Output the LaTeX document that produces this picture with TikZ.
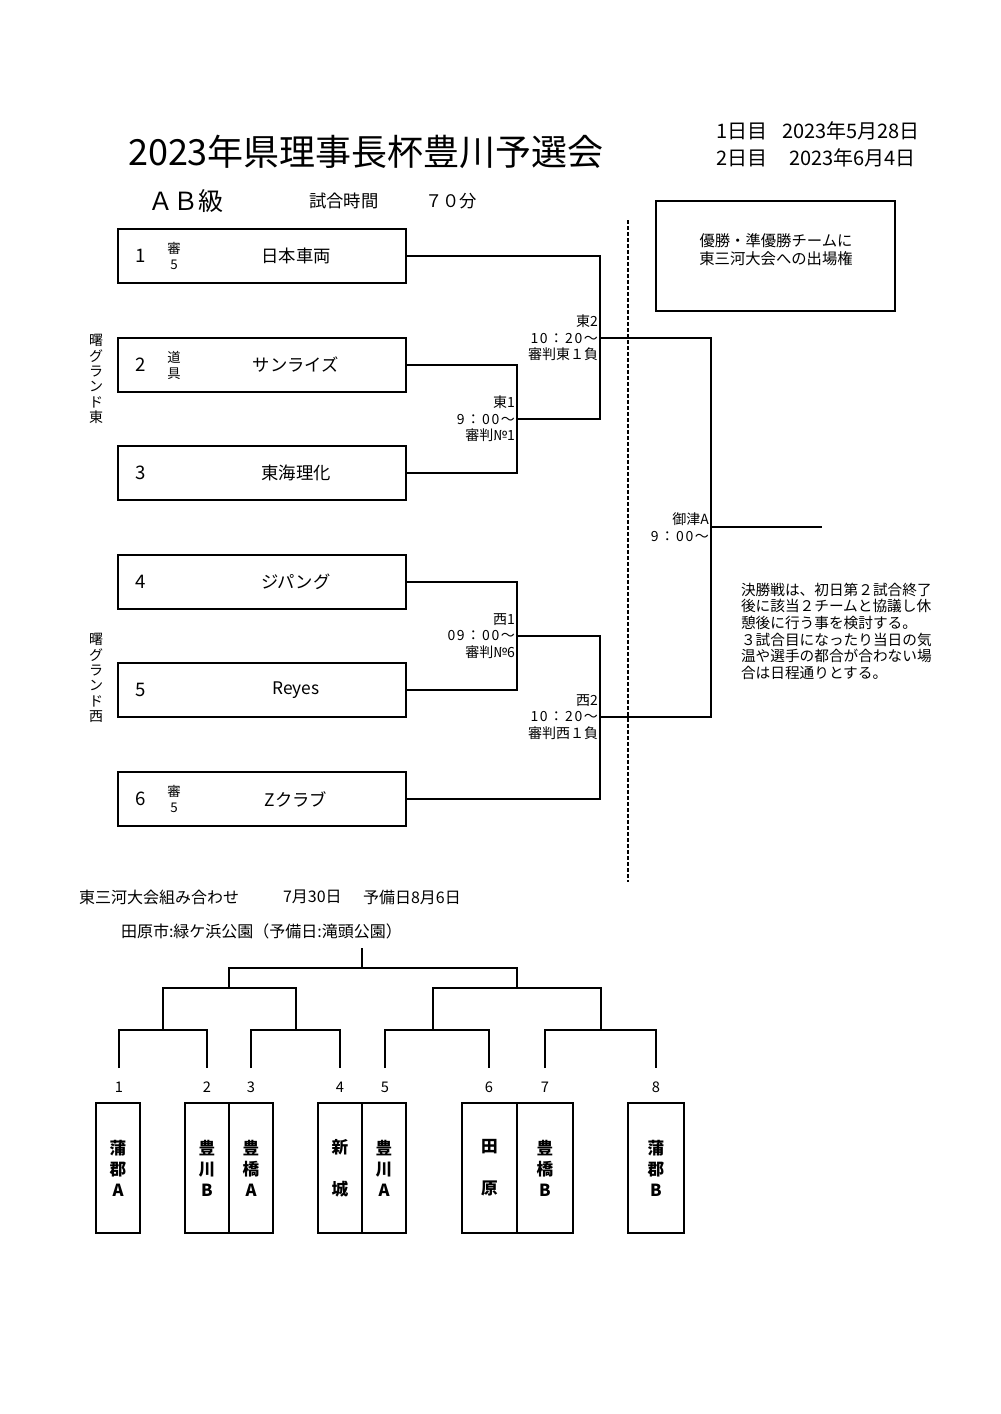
\documentclass[tikz,border=0pt]{standalone}
\usepackage{fontspec}
\setmainfont{Noto Sans CJK JP}
\newcommand\wide{\addfontfeature{LetterSpace=12}}
\begin{document}
\begin{tikzpicture}[x=0.75pt,y=-0.75pt,
  every node/.style={inner sep=0pt, outer sep=0pt},
  team/.style={draw, line width=1.1pt, minimum width=216pt, minimum height=40.5pt},
  tname/.style={font=\fontsize{13pt}{15pt}\selectfont},
  tnum/.style={font=\fontsize{14pt}{15pt}\selectfont},
  tnote/.style={font=\fontsize{10pt}{12pt}\selectfont, align=center},
  lbl/.style={font=\fontsize{10.5pt}{12.4pt}\selectfont, align=right, anchor=east},
  wire/.style={line width=1.1pt},
  vtext/.style={font=\fontsize{10.5pt}{11.5pt}\selectfont, align=center},
  cell/.style={draw, line width=1.1pt, minimum height=97.5pt, font=\bfseries\fontsize{12.5pt}{15.75pt}\selectfont, align=center},
  bnum/.style={font=\fontsize{11pt}{12pt}\selectfont},
  head/.style={anchor=west, font=\fontsize{12pt}{14pt}\selectfont},
  date/.style={anchor=west, font=\fontsize{15pt}{16pt}\selectfont}
]
\useasboundingbox (0,0) rectangle (1000,1414);

% header
\node[font=\fontsize{27pt}{32pt}\selectfont] (title) at (366,152) {2023年県理事長杯豊川予選会};
\node[date] (d1a) at (716,131) {1日目};
\node[date] (d1b) at (782,131) {2023年5月28日};
\node[date] (d2a) at (716,158) {2日目};
\node[date] (d2b) at (789,158) {2023年6月4日};
\node[anchor=west, font=\fontsize{18.75pt}{20pt}\selectfont] (cls) at (148,201) {ＡＢ級};
\node[anchor=west, font=\fontsize{13pt}{15pt}\selectfont] (tm) at (309,201) {試合時間};
\node[anchor=west, font=\fontsize{13pt}{15pt}\selectfont] (tmv) at (425,201) {７０分};

% team boxes
\foreach \i/\y in {1/256,2/365,3/473,4/582,5/690,6/799}{
  \node[team] (t\i) at (262,\y) {};
  \node[tnum] (n\i) at (141,\y) {\i};
}
\node[tname] (nm1) at (296,256) {日本車両};
\node[tname] (nm2) at (296,365) {サンライズ};
\node[tname] (nm3) at (296,473) {東海理化};
\node[tname] (nm4) at (296,582) {ジパング};
\node[tname] (nm5) at (296,690) {Reyes};
\node[tname] (nm6) at (296,799) {Zクラブ};
\node[tnote] (a1) at (174,256) {審\\5};
\node[tnote] (a2) at (174,365) {道\\具};
\node[tnote] (a6) at (174,799) {審\\5};

\node[vtext] (ge) at (96,379) {曙\\グ\\ラ\\ン\\ド\\東};
\node[vtext] (gw) at (96,678) {曙\\グ\\ラ\\ン\\ド\\西};

% junctions
\coordinate (e1) at (517,419);
\coordinate (e2) at (600,338);
\coordinate (w1) at (517,636);
\coordinate (w2) at (600,717);
\coordinate (f) at (711,527);
\coordinate (fend) at (822,527);

\draw[wire] (t2.east) -| (e1);
\draw[wire] (t3.east) -| (e1);
\draw[wire] (e1) -| (e2);
\draw[wire] (t1.east) -| (e2);
\draw[wire] (e2) -| (f);
\draw[wire] (t4.east) -| (w1);
\draw[wire] (t5.east) -| (w1);
\draw[wire] (w1) -| (w2);
\draw[wire] (t6.east) -| (w2);
\draw[wire] (w2) -| (f);
\draw[wire] (f) -- (fend);

\node[lbl] (le1) at ([xshift=-1.5pt]e1) {東1\\{\wide 9：00～}\\審判№1};
\node[lbl] (le2) at ([xshift=-1.5pt]e2) {東2\\{\wide 10：20～}\\審判東１負};
\node[lbl] (lw1) at ([xshift=-1.5pt]w1) {西1\\{\wide 09：00～}\\審判№6};
\node[lbl] (lw2) at ([xshift=-1.5pt]w2) {西2\\{\wide 10：20～}\\審判西１負};
\node[lbl] (lf) at ([xshift=-1.5pt]f) {御津A\\{\wide 9：00～}};

% dashed divider
\coordinate (dv1) at (628,220);
\coordinate (dv2) at (628,882);
\draw[line width=0.8pt, dash pattern=on 3pt off 1.5pt] (dv1) -- (dv2);

% prize box
\node[draw, line width=2.2pt, minimum width=179.25pt, minimum height=82.5pt] (prize) at (775.5,256) {};
\node[align=center, font=\fontsize{11.5pt}{13.5pt}\selectfont] (prizetext) at (776,250) {優勝・準優勝チームに\\東三河大会への出場権};

% note
\node[anchor=north west, align=left, font=\fontsize{11pt}{12.4pt}\selectfont] (note) at (741,583)
 {決勝戦は、初日第２試合終了\\後に該当２チームと協議し休\\憩後に行う事を検討する。\\３試合目になったり当日の気\\温や選手の都合が合わない場\\合は日程通りとする。};

% bottom section
\node[head] (h1) at (79,897) {東三河大会組み合わせ};
\node[head] (h2) at (283,897) {7月30日};
\node[head] (h3) at (363,897) {予備日8月6日};
\node[head] (h4) at (121,931) {田原市:緑ケ浜公園（予備日:滝頭公園）};

\coordinate (k0) at (362,948);
\coordinate (k) at (362,968);
\coordinate (kL) at (229,988);
\coordinate (kR) at (517,988);
\coordinate (mLL) at (163,1030);
\coordinate (mLR) at (296,1030);
\coordinate (mRL) at (433,1030);
\coordinate (mRR) at (601,1030);
\foreach \i/\x in {1/119,2/207,3/251,4/340,5/385,6/489,7/545,8/656}{
  \coordinate (p\i) at (\x,1068);
  \node[bnum] (bn\i) at (\x,1087) {\i};
}
\draw[wire] (k0) -- (k);
\draw[wire] (kL) |- (k) -| (kR);
\draw[wire] (mLL) |- (kL) -| (mLR);
\draw[wire] (mRL) |- (kR) -| (mRR);
\draw[wire] (p1) |- (mLL) -| (p2);
\draw[wire] (p3) |- (mLR) -| (p4);
\draw[wire] (p5) |- (mRL) -| (p6);
\draw[wire] (p7) |- (mRR) -| (p8);

\node[cell, minimum width=33pt] (c1) at (118,1168) {蒲\\郡\\A};
\node[cell, minimum width=33pt] (c2) at (207,1168) {豊\\川\\B};
\node[cell, minimum width=33pt] (c3) at (251,1168) {豊\\橋\\A};
\node[cell, minimum width=33pt] (c4) at (340,1168) {新\\\phantom{新}\\城};
\node[cell, minimum width=33pt] (c5) at (384,1168) {豊\\川\\A};
\node[cell, minimum width=41.25pt] (c6) at (489.5,1168) {田\\\phantom{田}\\原};
\node[cell, minimum width=42pt] (c7) at (545,1168) {豊\\橋\\B};
\node[cell, minimum width=42pt] (c8) at (656,1168) {蒲\\郡\\B};
\end{tikzpicture}
\end{document}
